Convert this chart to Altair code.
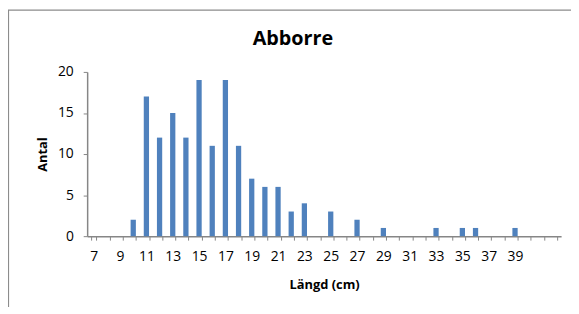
import altair as alt
import pandas as pd

title_text = "Abborre"
lengths = list(range(7, 43))
counts = [0, 0, 0, 2, 17, 12, 15, 12, 19, 11, 19, 11, 7, 6, 6, 3, 4, 0, 3, 0,
          2, 0, 1, 0, 0, 0, 1, 0, 1, 1, 0, 0, 1, 0, 0, 0]

df = pd.DataFrame({"Längd": lengths, "Antal": counts})

FONT = "Open Sans"
AXIS_GRAY = "#868686"

bars = alt.Chart(df).mark_bar(color="#4F81BD").encode(
    x=alt.X(
        "Längd:O",
        sort=lengths,
        scale=alt.Scale(domain=lengths, paddingInner=0.6, paddingOuter=0.3),
        axis=alt.Axis(
            title="Längd (cm)",
            labelAngle=0,
            labelExpr="(datum.value % 2 == 1 && datum.value <= 39) ? datum.label : ''",
            tickBand="extent",
            tickSize=4,
            labelPadding=10,
            titlePadding=15,
        ),
    ),
    y=alt.Y(
        "Antal:Q",
        scale=alt.Scale(domain=[0, 20], nice=False),
        axis=alt.Axis(
            title="Antal",
            values=[0, 5, 10, 15, 20],
            tickSize=4,
            labelPadding=10,
            titlePadding=8,
            grid=False,
        ),
    ),
)

frame = alt.Chart(pd.DataFrame({"a": [0]})).mark_rect(
    fill=None, stroke="#8c8c8c", strokeWidth=1.2, clip=False
).encode(
    x=alt.value(-79.5), x2=alt.value(520), y=alt.value(-62.5), y2=alt.value(300)
)

title = alt.Chart(pd.DataFrame({"t": [title_text]})).mark_text(
    font=FONT, fontSize=20, fontWeight="bold", color="#000000",
    align="center", baseline="alphabetic",
).encode(
    text="t:N", x=alt.value(208), y=alt.value(-27)
)

chart = alt.layer(frame, bars, title).properties(
    width=479,
    height=166,
    autosize=alt.AutoSizeParams(type="none"),
    padding={"left": 80, "top": 63, "right": 10, "bottom": 70},
).configure_axis(
    domainColor=AXIS_GRAY,
    tickColor=AXIS_GRAY,
    domainWidth=1.5,
    labelFont=FONT,
    labelFontSize=14,
    labelColor="#000000",
    titleFont=FONT,
    titleFontSize=13,
    titleFontWeight="bold",
    titleColor="#000000",
).configure_view(stroke=None)

chart.save("out.html", embed_options={"renderer": "svg", "actions": False})
